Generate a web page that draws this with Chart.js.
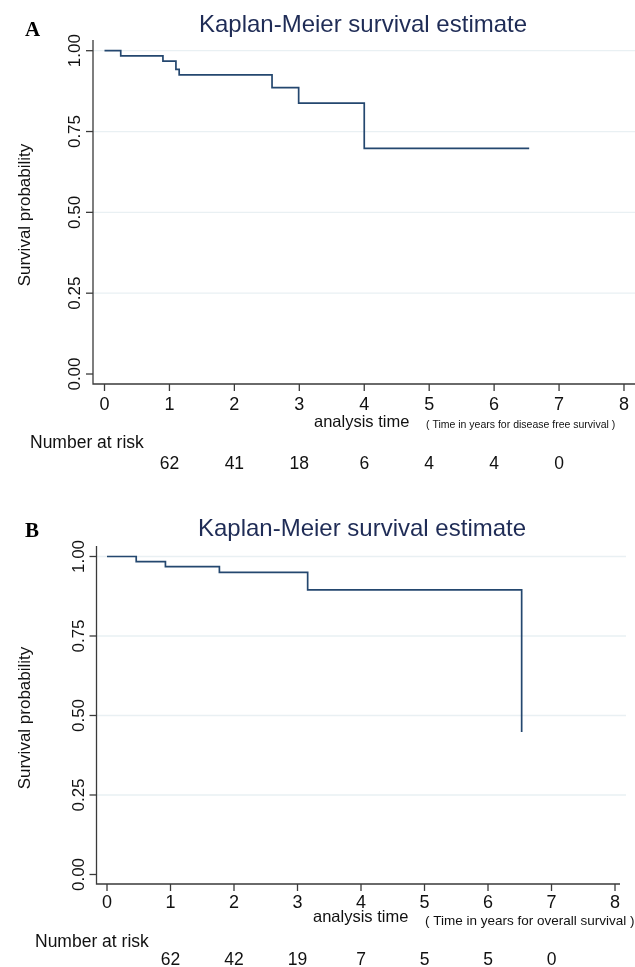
<!DOCTYPE html>
<html>
<head>
<meta charset="utf-8">
<script src="https://cdn.jsdelivr.net/npm/chart.js@4.4.0/dist/chart.umd.min.js"></script>
<style>
  html, body { margin: 0; padding: 0; background: #fff; }
  .panel { position: absolute; left: 0; }
</style>
</head>
<body>
<canvas id="chartA" class="panel" width="635" height="483" style="top:0"></canvas>
<canvas id="chartB" class="panel" width="635" height="484" style="top:483px"></canvas>
<script>
const xTicks = [0, 1, 2, 3, 4, 5, 6, 7, 8];
const yTicks = [0, 0.25, 0.5, 0.75, 1];
const riskTimes = [1, 2, 3, 4, 5, 6, 7];

// A: disease free survival
const dfsTimes = [0, 0.25, 0.9, 1.1, 1.15, 2.58, 2.99, 4.0, 6.54];
const dfsSurv = [1, 0.984, 0.968, 0.942, 0.925, 0.886, 0.838, 0.698, 0.698];
const dfsRisk = [62, 41, 18, 6, 4, 4, 0];

// B: overall survival
const osTimes = [0, 0.46, 0.92, 1.77, 3.16, 6.53];
const osSurv = [1, 0.984, 0.968, 0.95, 0.895, 0.448];
const osRisk = [62, 42, 19, 7, 5, 5, 0];

const SANS = '"Liberation Sans", Arial, sans-serif';

// grid, axes, labels and the number-at-risk row
const kmDecor = {
    id: 'kmDecor',
    beforeDatasetsDraw(chart, args, o) {
        const { ctx, chartArea: a, scales: { y } } = chart;
        ctx.save();
        ctx.strokeStyle = '#e9f0f3';
        ctx.lineWidth = 1.3;
        yTicks.filter(v => v > 0).forEach(v => {
            const py = y.getPixelForValue(v);
            ctx.beginPath();
            ctx.moveTo(a.left, py);
            ctx.lineTo(o.gridRight, py);
            ctx.stroke();
        });
        ctx.restore();
    },
    afterDraw(chart, args, o) {
        const { ctx, chartArea: a, scales: { x, y } } = chart;
        ctx.save();

        // axis lines + ticks
        ctx.strokeStyle = '#3a3a3a';
        ctx.lineWidth = 1.3;
        ctx.beginPath();
        ctx.moveTo(a.left, a.top);
        ctx.lineTo(a.left, a.bottom);
        ctx.lineTo(o.axisRight, a.bottom);
        ctx.stroke();
        yTicks.forEach(v => {
            const py = y.getPixelForValue(v);
            ctx.beginPath();
            ctx.moveTo(a.left - 7, py);
            ctx.lineTo(a.left, py);
            ctx.stroke();
        });
        xTicks.forEach(v => {
            const px = x.getPixelForValue(v);
            ctx.beginPath();
            ctx.moveTo(px, a.bottom);
            ctx.lineTo(px, a.bottom + 7);
            ctx.stroke();
        });

        ctx.fillStyle = '#111';

        // y tick labels, rotated
        ctx.font = '17px ' + SANS;
        ctx.textAlign = 'center';
        ctx.textBaseline = 'alphabetic';
        yTicks.forEach(v => {
            ctx.save();
            ctx.translate(a.left - 13, y.getPixelForValue(v));
            ctx.rotate(-Math.PI / 2);
            ctx.fillText(v.toFixed(2), 0, 0);
            ctx.restore();
        });

        // y title
        ctx.save();
        ctx.translate(30, (a.top + a.bottom) / 2 + 3);
        ctx.rotate(-Math.PI / 2);
        ctx.fillText('Survival probability', 0, 0);
        ctx.restore();

        // x tick labels
        ctx.font = '18px ' + SANS;
        xTicks.forEach(v => {
            ctx.fillText(String(v), x.getPixelForValue(v), o.tickLabelY);
        });

        // x title + note
        ctx.textAlign = 'left';
        ctx.font = '16.5px ' + SANS;
        ctx.fillText('analysis time', o.xTitleX, o.xTitleY);
        ctx.font = o.noteSize + 'px ' + SANS;
        ctx.fillText(o.note, o.noteX, o.noteY);

        // number at risk
        ctx.font = '17.5px ' + SANS;
        ctx.fillText('Number at risk', o.riskLabelX, o.riskLabelY);
        ctx.textAlign = 'center';
        riskTimes.forEach((t, i) => {
            ctx.fillText(String(o.risk[i]), x.getPixelForValue(t), o.riskNumY);
        });

        // title and panel letter
        ctx.fillStyle = '#1f2c56';
        ctx.font = '24px ' + SANS;
        ctx.fillText('Kaplan-Meier survival estimate', o.titleX, o.titleY);
        ctx.fillStyle = '#000';
        ctx.textAlign = 'left';
        ctx.font = 'bold 21px "Liberation Serif", "Times New Roman", serif';
        ctx.fillText(o.letter, 25, o.letterY);

        ctx.restore();
    }
};

function makePanel(id, times, surv, pad, xr, yr, deco) {
    return new Chart(document.getElementById(id), {
        type: 'line',
        data: {
            datasets: [{
                data: times.map((t, i) => ({ x: t, y: surv[i] })),
                stepped: true,
                borderColor: '#24476f',
                borderWidth: 1.7,
                pointRadius: 0,
                fill: false
            }]
        },
        options: {
            responsive: false,
            animation: false,
            layout: { padding: pad },
            scales: {
                x: { type: 'linear', min: xr[0], max: xr[1], display: false },
                y: { type: 'linear', min: yr[0], max: yr[1], display: false }
            },
            plugins: {
                legend: { display: false },
                tooltip: { enabled: false },
                kmDecor: deco
            }
        },
        plugins: [kmDecor]
    });
}

makePanel('chartA', dfsTimes, dfsSurv,
    { left: 93, top: 40, right: 0, bottom: 99 },
    [-0.1771, 8.1695], [-0.0309, 1.0331],
    {
        letter: 'A', letterY: 36, titleX: 363, titleY: 32,
        gridRight: 635, axisRight: 635,
        tickLabelY: 410, xTitleX: 314, xTitleY: 427,
        note: '( Time in years for disease free survival )', noteSize: 10.5, noteX: 426, noteY: 428,
        riskLabelX: 30, riskLabelY: 448, riskNumY: 469, risk: dfsRisk
    });

makePanel('chartB', osTimes, osSurv,
    { left: 96.5, top: 63, right: 9, bottom: 83 },
    [-0.1654, 8.1731], [-0.0299, 1.0330],
    {
        letter: 'B', letterY: 54, titleX: 362, titleY: 53,
        gridRight: 626, axisRight: 620,
        tickLabelY: 425, xTitleX: 313, xTitleY: 439,
        note: '( Time in years for overall survival )', noteSize: 13.5, noteX: 425, noteY: 442,
        riskLabelX: 35, riskLabelY: 464, riskNumY: 482, risk: osRisk
    });
</script>
</body>
</html>
